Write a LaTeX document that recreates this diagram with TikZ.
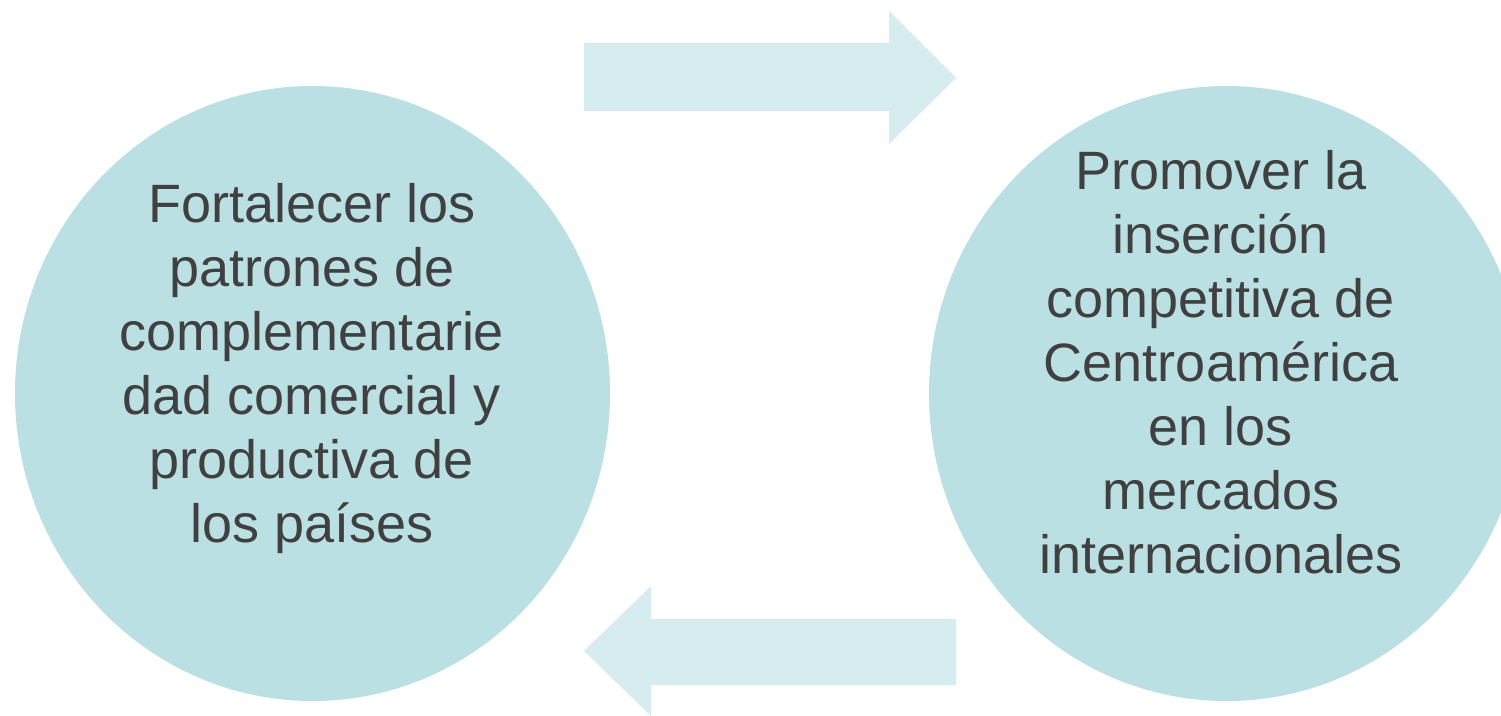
\documentclass[tikz,border=0pt]{standalone}
\usepackage{fontspec}
\setmainfont{Liberation Sans}
\usepackage{tikz}
\usetikzlibrary{shapes.geometric}
\definecolor{circfill}{HTML}{BAE0E3}
\definecolor{arrfill}{HTML}{D7ECEF}
\definecolor{txtgray}{HTML}{404040}

\begin{document}
\begin{tikzpicture}[x=1pt, y=-1pt,
    goal/.style={ellipse, fill=circfill, inner sep=0pt,
        minimum width=595pt, minimum height=615pt},
    goaltext/.style={align=center, text=txtgray, inner sep=0pt,
        font=\fontsize{54}{64}\selectfont},
    blockarrow/.style={fill=arrfill}]

        \useasboundingbox (0,0) rectangle (1501,715);

        % Left circle
        \node[goal] (izq) at (312.5,393.5) {};
        \node[goaltext] (izqtxt) at (312,369) {Fortalecer los\\ patrones de\\ complementarie\\ dad comercial y\\ productiva de\\ los países};

        % Right circle
        \node[goal] (der) at (1226.5,393.5) {};
        \node[goaltext] (dertxt) at (1221,362) {Promover la\\ inserción\\ competitiva de\\ Centroamérica\\ en los\\ mercados\\ internacionales};

        % Arrow to the right
        \fill[blockarrow] (584,43) -- (889,43) -- (889,11) -- (956,78)
            -- (889,144) -- (889,111) -- (584,111) -- cycle;

        % Arrow to the left
        \fill[blockarrow] (956,619) -- (651,619) -- (651,586) -- (584,651)
            -- (651,716) -- (651,685) -- (956,685) -- cycle;

        \end{tikzpicture}
\end{document}
